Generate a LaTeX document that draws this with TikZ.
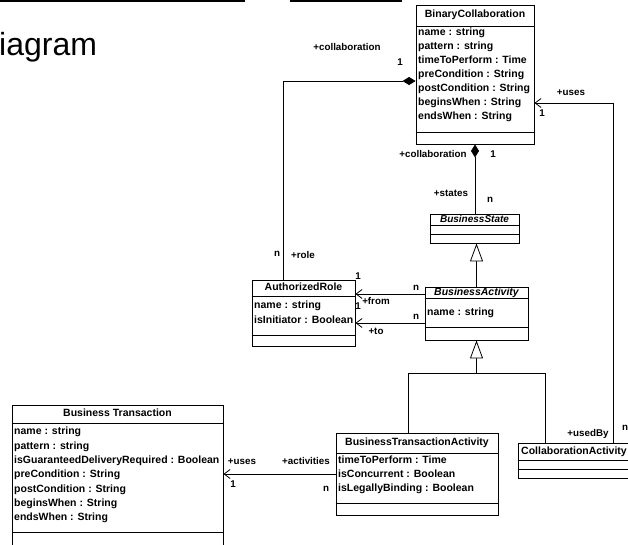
\documentclass[tikz,border=0pt]{standalone}
\usepackage{fontspec}
\setmainfont{Liberation Sans}
\usetikzlibrary{arrows.meta}
\begin{document}
\begin{tikzpicture}[x=1pt,y=-1pt,
  cls/.style={draw, line width=0.9pt, inner sep=0pt},
  sepline/.style={line width=0.9pt},
  txt/.style={inner sep=0pt, font=\bfseries\fontsize{10.5}{12}\selectfont, text height=7.4pt, text depth=2pt},
  attr/.style={txt, anchor=west},
  lbl/.style={inner sep=0pt, font=\bfseries\fontsize{9.8}{11}\selectfont, text height=6.8pt, text depth=1.5pt},
  conn/.style={line width=0.8pt},
  nav/.style={conn, -{Straight Barb[length=6pt,width=9pt]}},
  comp/.style={conn, {Diamond[length=13pt,width=8pt]}-},
  gen/.style={conn, -{Triangle[open,length=18pt,width=13pt,fill=white]}}
]
\useasboundingbox (0,0) rectangle (628,544);
\clip (0,0) rectangle (628,544);

% top rule and title
\draw[line width=1.2pt] (0,1) -- (245,1);
\draw[line width=1.2pt] (290,1) -- (402,1);
\node[anchor=base west, inner sep=0pt, font=\fontsize{32}{36}\selectfont] (title) at (-1,55) {iagram};

% BinaryCollaboration
\node[cls, minimum width=118pt, minimum height=139pt] (bc) at (475,74.5) {};
\draw[sepline] (bc.west |- 0,26) -- (bc.east |- 0,26);
\draw[sepline] (bc.west |- 0,132) -- (bc.east |- 0,132);
\node[txt] (bct) at (475,15) {BinaryCollaboration};
\node[attr] (bca1) at (418,33) {name : string};
\node[attr] (bca2) at (418,47) {pattern : string};
\node[attr] (bca3) at (418,61) {timeToPerform : Time};
\node[attr] (bca4) at (418,75) {preCondition : String};
\node[attr] (bca5) at (418,89) {postCondition : String};
\node[attr] (bca6) at (418,103) {beginsWhen : String};
\node[attr] (bca7) at (418,117) {endsWhen : String};

% BusinessState
\node[cls, minimum width=89pt, minimum height=29pt] (bs) at (474.5,228.5) {};
\draw[sepline] (bs.west |- 0,225) -- (bs.east |- 0,225);
\draw[sepline] (bs.west |- 0,234) -- (bs.east |- 0,234);
\node[txt, font=\bfseries\itshape\fontsize{10}{12}\selectfont] (bst) at (474.5,219.5) {BusinessState};

% BusinessActivity
\node[cls, minimum width=103pt, minimum height=53pt] (ba) at (476.5,313.5) {};
\draw[sepline] (ba.west |- 0,298) -- (ba.east |- 0,298);
\draw[sepline] (ba.west |- 0,327) -- (ba.east |- 0,327);
\node[txt, font=\bfseries\itshape\fontsize{10.5}{12}\selectfont] (bat) at (476.5,292.5) {BusinessActivity};
\node[attr] (baa1) at (427,313) {name : string};

% AuthorizedRole
\node[cls, minimum width=103pt, minimum height=66pt] (ar) at (303.5,313) {};
\draw[sepline] (ar.west |- 0,296) -- (ar.east |- 0,296);
\draw[sepline] (ar.west |- 0,335) -- (ar.east |- 0,335);
\node[txt] (art) at (303.5,288) {AuthorizedRole};
\node[attr] (ara1) at (254,306) {name : string};
\node[attr] (ara2) at (254,321) {isInitiator : Boolean};

% BusinessTransactionActivity
\node[cls, minimum width=162pt, minimum height=82pt] (bta) at (417,474) {};
\draw[sepline] (bta.west |- 0,453) -- (bta.east |- 0,453);
\draw[sepline] (bta.west |- 0,503) -- (bta.east |- 0,503);
\node[txt] (btat) at (417,443) {BusinessTransactionActivity};
\node[attr] (btaa1) at (338,461) {timeToPerform : Time};
\node[attr] (btaa2) at (338,475) {isConcurrent : Boolean};
\node[attr] (btaa3) at (338,489) {isLegallyBinding : Boolean};

% CollaborationActivity
\node[cls, minimum width=114pt, minimum height=35pt] (ca) at (575,460.5) {};
\draw[sepline] (ca.west |- 0,460) -- (ca.east |- 0,460);
\draw[sepline] (ca.west |- 0,469) -- (ca.east |- 0,469);
\node[txt] (cat) at (574,451.5) {CollaborationActivity};

% Business Transaction
\node[cls, minimum width=211pt, minimum height=147pt] (bt) at (117.5,478.5) {};
\draw[sepline] (bt.west |- 0,423) -- (bt.east |- 0,423);
\draw[sepline] (bt.west |- 0,532) -- (bt.east |- 0,532);
\node[txt] (btt) at (117.5,414) {Business Transaction};
\node[attr] (bta1) at (14,432) {name : string};
\node[attr] (bta2) at (14,446.3) {pattern : string};
\node[attr] (bta3) at (14,460.6) {isGuaranteedDeliveryRequired : Boolean};
\node[attr] (bta4) at (14,475) {preCondition : String};
\node[attr] (bta5) at (14,489.3) {postCondition : String};
\node[attr] (bta6) at (14,503.6) {beginsWhen : String};
\node[attr] (bta7) at (14,518) {endsWhen : String};

% connectors
\coordinate (c1) at (283,81);
\draw[comp] (bc.west |- c1) -- (c1) -- (c1 |- ar.north);
\draw[comp] (bc.south) -- (bc.south |- bs.north);
\draw[gen] (ba.north) -- (ba.north |- bs.south);
\coordinate (j) at (476.5,373);
\coordinate (jl) at (408,373);
\coordinate (jr) at (545,373);
\draw[conn] (jl |- bta.north) -- (jl) -- (jr) -- (jr |- ca.north);
\draw[gen] (j) -- (ba.south);
\draw[nav] (ba.west |- 0,294) -- (ar.east |- 0,294);
\draw[nav] (ba.west |- 0,323) -- (ar.east |- 0,323);
\draw[nav] (bta.west |- 0,474) -- (bt.east |- 0,474);
\coordinate (c2) at (613,103);
\draw[nav] (c2 |- ca.north) -- (c2) -- (bc.east |- c2);

% labels
\node[lbl] (l1) at (347,48) {+collaboration};
\node[lbl] (l2) at (400,63) {1};
\node[lbl] (l3) at (433,155) {+collaboration};
\node[lbl] (l4) at (493,155) {1};
\node[lbl] (l5) at (451,194) {+states};
\node[lbl] (l6) at (490,200) {n};
\node[lbl] (l7) at (277,254) {n};
\node[lbl] (l8) at (303,256) {+role};
\node[lbl] (l9) at (358,277) {1};
\node[lbl] (l10) at (416,288) {n};
\node[lbl] (l11) at (416,317) {n};
\node[lbl] (l12) at (376,302) {+from};
\node[lbl] (l13) at (358,307) {1};
\node[lbl] (l14) at (376,332) {+to};
\node[lbl] (l15) at (242,462) {+uses};
\node[lbl] (l16) at (233,485) {1};
\node[lbl] (l17) at (306,462) {+activities};
\node[lbl] (l18) at (326,489) {n};
\node[lbl] (l19) at (571,93) {+uses};
\node[lbl] (l20) at (542,114) {1};
\node[lbl] (l21) at (588,434) {+usedBy};
\node[lbl] (l22) at (625,428) {n};
\end{tikzpicture}
\end{document}
